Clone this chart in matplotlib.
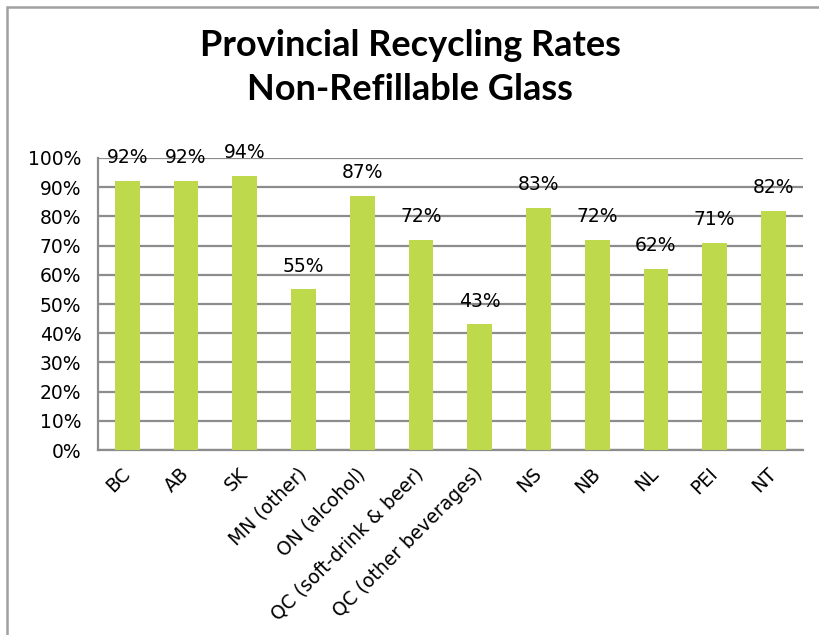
import numpy as np
import matplotlib.pyplot as plt
from matplotlib.patches import Rectangle

plt.rcParams['font.family'] = ['DejaVu Sans']

regions = ['BC', 'AB', 'SK', 'MN (other)', 'ON (alcohol)', 'QC (soft-drink & beer)',
           'QC (other beverages)', 'NS', 'NB', 'NL', 'PEI', 'NT']
rates = [92, 92, 94, 55, 87, 72, 43, 83, 72, 62, 71, 82]
yticks = [0, 10, 20, 30, 40, 50, 60, 70, 80, 90, 100]

bar_color = '#BFD94C'
grid_color = '#8C8C8C'

fig = plt.figure(figsize=(8.2, 6.35), dpi=100)
ax = fig.add_axes([0.1195, 0.2913, 0.8595, 0.4599])

x = np.arange(len(regions))
bars = ax.bar(x, rates, width=0.42, color=bar_color, zorder=3)

for xi, v in zip(x, rates):
    ax.annotate(f'{v}%', (xi, v), xytext=(0, 10), textcoords='offset points',
                ha='center', va='bottom', fontsize=13.5, zorder=4)

ax.set_xlim(-0.5, len(regions) - 0.5)
ax.set_ylim(0, 100)
ax.set_yticks(yticks)
ax.set_yticklabels([f'{t}%' for t in yticks], fontsize=13.5)
ax.set_xticks(x)
ax.set_xticklabels(regions, rotation=45, ha='right', va='center',
                   rotation_mode='anchor', fontsize=13.5)
ax.tick_params(axis='both', length=0)
ax.tick_params(axis='x', pad=15)
ax.tick_params(axis='y', pad=12)

ax.yaxis.grid(True, color=grid_color, linewidth=1.6, zorder=0)
ax.set_axisbelow(True)
for s in ['top', 'right']:
    ax.spines[s].set_visible(False)
for s in ['left', 'bottom']:
    ax.spines[s].set_color(grid_color)
    ax.spines[s].set_linewidth(1.6)

fig.text(0.5, 1 - 45 / 635, 'Provincial Recycling Rates', ha='center', va='center',
         fontsize=26, fontweight='bold', family='Lato')
fig.text(0.5, 1 - 90 / 635, 'Non-Refillable Glass', ha='center', va='center',
         fontsize=26, fontweight='bold', family='Lato')

# outer chart frame (cut off at right and bottom)
fig.patches.append(Rectangle((7 / 820, -0.1), 1.2, 1 - 7 / 635 + 0.1,
                             transform=fig.transFigure, fill=False,
                             edgecolor='#A0A0A0', linewidth=1.8))

plt.savefig('out.png', dpi=100)
